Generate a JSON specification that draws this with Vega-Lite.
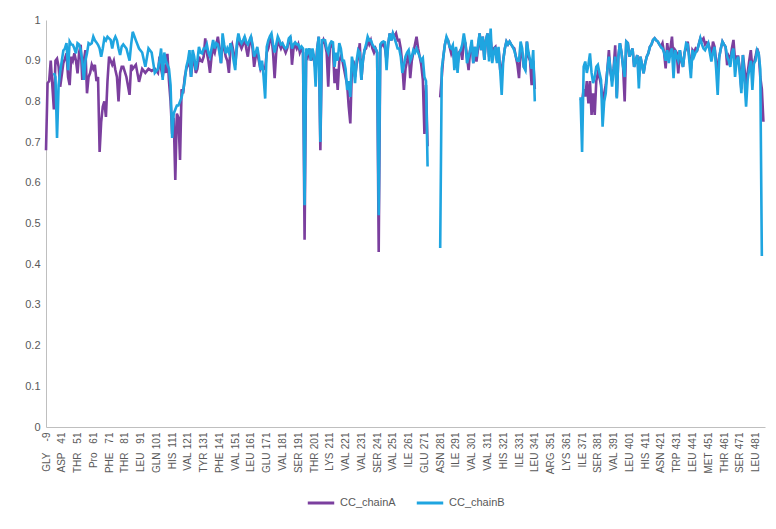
{
  "$schema": "https://vega.github.io/schema/vega-lite/v6.json",
  "autosize": {"type": "none"},
  "padding": {"left": 46, "top": 20, "right": 11, "bottom": 102},
  "width": 719,
  "height": 407,
  "background": "white",
  "config": {
    "view": {"stroke": null},
    "font": "Liberation Sans",
    "legend": {"layout": {"bottom": {"anchor": "middle"}}}
  },
  "data": {"values": [
    {"i":0,"CC_chainA":0.68,"CC_chainB":null},
    {"i":1,"CC_chainA":0.845,"CC_chainB":null},
    {"i":2,"CC_chainA":0.85,"CC_chainB":null},
    {"i":3,"CC_chainA":0.9,"CC_chainB":null},
    {"i":5,"CC_chainA":0.78,"CC_chainB":0.87},
    {"i":6,"CC_chainA":0.9,"CC_chainB":0.86},
    {"i":7,"CC_chainA":0.905,"CC_chainB":0.71},
    {"i":8,"CC_chainA":0.885,"CC_chainB":0.84},
    {"i":9,"CC_chainA":0.836,"CC_chainB":0.873},
    {"i":11,"CC_chainA":0.894,"CC_chainB":0.925},
    {"i":12,"CC_chainA":0.905,"CC_chainB":0.93},
    {"i":13,"CC_chainA":0.918,"CC_chainB":0.943},
    {"i":14,"CC_chainA":0.86,"CC_chainB":0.877},
    {"i":15,"CC_chainA":0.84,"CC_chainB":0.947},
    {"i":16,"CC_chainA":0.91,"CC_chainB":0.94},
    {"i":17,"CC_chainA":0.9,"CC_chainB":0.939},
    {"i":18,"CC_chainA":0.918,"CC_chainB":0.93},
    {"i":19,"CC_chainA":0.9,"CC_chainB":0.918},
    {"i":20,"CC_chainA":0.869,"CC_chainB":0.943},
    {"i":21,"CC_chainA":0.92,"CC_chainB":0.94},
    {"i":22,"CC_chainA":0.939,"CC_chainB":0.926},
    {"i":23,"CC_chainA":0.853,"CC_chainB":0.9},
    {"i":24,"CC_chainA":0.9,"CC_chainB":0.853},
    {"i":25,"CC_chainA":0.926,"CC_chainB":0.9},
    {"i":26,"CC_chainA":0.82,"CC_chainB":0.918},
    {"i":27,"CC_chainA":0.86,"CC_chainB":0.943},
    {"i":28,"CC_chainA":0.87,"CC_chainB":0.94},
    {"i":29,"CC_chainA":0.89,"CC_chainB":0.943},
    {"i":30,"CC_chainA":0.88,"CC_chainB":0.959},
    {"i":31,"CC_chainA":0.89,"CC_chainB":0.95},
    {"i":32,"CC_chainA":0.85,"CC_chainB":0.945},
    {"i":33,"CC_chainA":0.86,"CC_chainB":0.939},
    {"i":34,"CC_chainA":0.676,"CC_chainB":0.93},
    {"i":35,"CC_chainA":0.75,"CC_chainB":0.91},
    {"i":36,"CC_chainA":0.787,"CC_chainB":0.93},
    {"i":37,"CC_chainA":0.8,"CC_chainB":0.955},
    {"i":38,"CC_chainA":0.762,"CC_chainB":0.95},
    {"i":39,"CC_chainA":0.85,"CC_chainB":0.959},
    {"i":40,"CC_chainA":0.91,"CC_chainB":0.955},
    {"i":41,"CC_chainA":0.9,"CC_chainB":0.951},
    {"i":42,"CC_chainA":0.89,"CC_chainB":0.93},
    {"i":43,"CC_chainA":0.9,"CC_chainB":0.95},
    {"i":44,"CC_chainA":0.877,"CC_chainB":0.959},
    {"i":45,"CC_chainA":0.86,"CC_chainB":0.95},
    {"i":46,"CC_chainA":0.8,"CC_chainB":0.93},
    {"i":47,"CC_chainA":0.87,"CC_chainB":0.914},
    {"i":48,"CC_chainA":0.885,"CC_chainB":0.935},
    {"i":49,"CC_chainA":0.885,"CC_chainB":0.94},
    {"i":51,"CC_chainA":0.86,"CC_chainB":0.93},
    {"i":53,"CC_chainA":0.816,"CC_chainB":0.9},
    {"i":54,"CC_chainA":0.89,"CC_chainB":0.94},
    {"i":55,"CC_chainA":0.88,"CC_chainB":0.971},
    {"i":57,"CC_chainA":0.89,"CC_chainB":0.95},
    {"i":59,"CC_chainA":0.848,"CC_chainB":0.93},
    {"i":61,"CC_chainA":0.88,"CC_chainB":0.92},
    {"i":63,"CC_chainA":0.87,"CC_chainB":0.885},
    {"i":65,"CC_chainA":0.88,"CC_chainB":0.93},
    {"i":67,"CC_chainA":0.875,"CC_chainB":0.92},
    {"i":69,"CC_chainA":0.88,"CC_chainB":0.87},
    {"i":71,"CC_chainA":0.87,"CC_chainB":0.88},
    {"i":72,"CC_chainA":0.91,"CC_chainB":0.9},
    {"i":73,"CC_chainA":0.88,"CC_chainB":0.93},
    {"i":74,"CC_chainA":0.86,"CC_chainB":0.853},
    {"i":75,"CC_chainA":0.89,"CC_chainB":0.92},
    {"i":76,"CC_chainA":0.87,"CC_chainB":0.9},
    {"i":77,"CC_chainA":0.917,"CC_chainB":0.89},
    {"i":78,"CC_chainA":0.85,"CC_chainB":0.88},
    {"i":79,"CC_chainA":0.8,"CC_chainB":0.84},
    {"i":80,"CC_chainA":0.72,"CC_chainB":0.71},
    {"i":81,"CC_chainA":0.76,"CC_chainB":0.77},
    {"i":82,"CC_chainA":0.607,"CC_chainB":0.78},
    {"i":83,"CC_chainA":0.77,"CC_chainB":0.79},
    {"i":84,"CC_chainA":0.76,"CC_chainB":0.79},
    {"i":85,"CC_chainA":0.656,"CC_chainB":0.8},
    {"i":86,"CC_chainA":0.83,"CC_chainB":0.81},
    {"i":87,"CC_chainA":0.82,"CC_chainB":0.828},
    {"i":88,"CC_chainA":0.86,"CC_chainB":0.85},
    {"i":89,"CC_chainA":0.88,"CC_chainB":0.885},
    {"i":90,"CC_chainA":0.89,"CC_chainB":0.9},
    {"i":91,"CC_chainA":0.9,"CC_chainB":0.926},
    {"i":92,"CC_chainA":0.86,"CC_chainB":0.86},
    {"i":93,"CC_chainA":0.9,"CC_chainB":0.926},
    {"i":94,"CC_chainA":0.9,"CC_chainB":0.91},
    {"i":95,"CC_chainA":0.87,"CC_chainB":0.877},
    {"i":96,"CC_chainA":0.88,"CC_chainB":0.9},
    {"i":97,"CC_chainA":0.91,"CC_chainB":0.934},
    {"i":98,"CC_chainA":0.9,"CC_chainB":0.92},
    {"i":99,"CC_chainA":0.898,"CC_chainB":0.918},
    {"i":100,"CC_chainA":0.91,"CC_chainB":0.93},
    {"i":101,"CC_chainA":0.955,"CC_chainB":0.93},
    {"i":102,"CC_chainA":0.92,"CC_chainB":0.94},
    {"i":103,"CC_chainA":0.9,"CC_chainB":0.92},
    {"i":104,"CC_chainA":0.87,"CC_chainB":0.91},
    {"i":105,"CC_chainA":0.91,"CC_chainB":0.93},
    {"i":106,"CC_chainA":0.93,"CC_chainB":0.951},
    {"i":107,"CC_chainA":0.92,"CC_chainB":0.93},
    {"i":108,"CC_chainA":0.94,"CC_chainB":0.943},
    {"i":109,"CC_chainA":0.959,"CC_chainB":0.94},
    {"i":110,"CC_chainA":0.93,"CC_chainB":0.92},
    {"i":111,"CC_chainA":0.894,"CC_chainB":0.894},
    {"i":112,"CC_chainA":0.95,"CC_chainB":0.967},
    {"i":113,"CC_chainA":0.93,"CC_chainB":0.94},
    {"i":114,"CC_chainA":0.91,"CC_chainB":0.918},
    {"i":115,"CC_chainA":0.9,"CC_chainB":0.93},
    {"i":116,"CC_chainA":0.87,"CC_chainB":0.92},
    {"i":117,"CC_chainA":0.93,"CC_chainB":0.943},
    {"i":118,"CC_chainA":0.94,"CC_chainB":0.93},
    {"i":119,"CC_chainA":0.92,"CC_chainB":0.9},
    {"i":120,"CC_chainA":0.89,"CC_chainB":0.877},
    {"i":121,"CC_chainA":0.93,"CC_chainB":0.94},
    {"i":122,"CC_chainA":0.96,"CC_chainB":0.967},
    {"i":123,"CC_chainA":0.94,"CC_chainB":0.95},
    {"i":124,"CC_chainA":0.93,"CC_chainB":0.943},
    {"i":125,"CC_chainA":0.94,"CC_chainB":0.95},
    {"i":126,"CC_chainA":0.959,"CC_chainB":0.959},
    {"i":127,"CC_chainA":0.93,"CC_chainB":0.945},
    {"i":128,"CC_chainA":0.91,"CC_chainB":0.94},
    {"i":129,"CC_chainA":0.94,"CC_chainB":0.95},
    {"i":130,"CC_chainA":0.959,"CC_chainB":0.959},
    {"i":131,"CC_chainA":0.93,"CC_chainB":0.94},
    {"i":132,"CC_chainA":0.885,"CC_chainB":0.91},
    {"i":133,"CC_chainA":0.91,"CC_chainB":0.92},
    {"i":134,"CC_chainA":0.92,"CC_chainB":0.934},
    {"i":135,"CC_chainA":0.9,"CC_chainB":0.91},
    {"i":136,"CC_chainA":0.88,"CC_chainB":0.877},
    {"i":137,"CC_chainA":0.89,"CC_chainB":0.9},
    {"i":138,"CC_chainA":0.88,"CC_chainB":0.86},
    {"i":139,"CC_chainA":0.88,"CC_chainB":0.807},
    {"i":140,"CC_chainA":0.92,"CC_chainB":0.934},
    {"i":141,"CC_chainA":0.93,"CC_chainB":0.95},
    {"i":142,"CC_chainA":0.95,"CC_chainB":0.96},
    {"i":143,"CC_chainA":0.96,"CC_chainB":0.967},
    {"i":144,"CC_chainA":0.92,"CC_chainB":0.94},
    {"i":145,"CC_chainA":0.857,"CC_chainB":0.92},
    {"i":146,"CC_chainA":0.92,"CC_chainB":0.94},
    {"i":147,"CC_chainA":0.95,"CC_chainB":0.959},
    {"i":148,"CC_chainA":0.94,"CC_chainB":0.95},
    {"i":149,"CC_chainA":0.93,"CC_chainB":0.94},
    {"i":150,"CC_chainA":0.94,"CC_chainB":0.943},
    {"i":151,"CC_chainA":0.93,"CC_chainB":0.935},
    {"i":152,"CC_chainA":0.92,"CC_chainB":0.93},
    {"i":153,"CC_chainA":0.93,"CC_chainB":0.934},
    {"i":154,"CC_chainA":0.95,"CC_chainB":0.955},
    {"i":155,"CC_chainA":0.959,"CC_chainB":0.959},
    {"i":156,"CC_chainA":0.89,"CC_chainB":0.93},
    {"i":157,"CC_chainA":0.93,"CC_chainB":0.94},
    {"i":158,"CC_chainA":0.94,"CC_chainB":0.945},
    {"i":159,"CC_chainA":0.93,"CC_chainB":0.94},
    {"i":160,"CC_chainA":0.94,"CC_chainB":0.94},
    {"i":161,"CC_chainA":0.92,"CC_chainB":0.93},
    {"i":162,"CC_chainA":0.93,"CC_chainB":0.935},
    {"i":163,"CC_chainA":0.92,"CC_chainB":0.93},
    {"i":164,"CC_chainA":0.46,"CC_chainB":0.545},
    {"i":165,"CC_chainA":0.92,"CC_chainB":0.93},
    {"i":166,"CC_chainA":0.91,"CC_chainB":0.92},
    {"i":167,"CC_chainA":0.93,"CC_chainB":0.93},
    {"i":168,"CC_chainA":0.9,"CC_chainB":0.9},
    {"i":169,"CC_chainA":0.92,"CC_chainB":0.93},
    {"i":170,"CC_chainA":0.9,"CC_chainB":0.91},
    {"i":171,"CC_chainA":0.88,"CC_chainB":0.836},
    {"i":172,"CC_chainA":0.93,"CC_chainB":0.93},
    {"i":173,"CC_chainA":0.959,"CC_chainB":0.959},
    {"i":174,"CC_chainA":0.68,"CC_chainB":0.7},
    {"i":175,"CC_chainA":0.94,"CC_chainB":0.95},
    {"i":176,"CC_chainA":0.951,"CC_chainB":0.951},
    {"i":177,"CC_chainA":0.94,"CC_chainB":0.95},
    {"i":178,"CC_chainA":0.92,"CC_chainB":0.93},
    {"i":179,"CC_chainA":0.836,"CC_chainB":0.92},
    {"i":180,"CC_chainA":0.93,"CC_chainB":0.94},
    {"i":181,"CC_chainA":0.947,"CC_chainB":0.947},
    {"i":182,"CC_chainA":0.93,"CC_chainB":0.945},
    {"i":183,"CC_chainA":0.845,"CC_chainB":0.885},
    {"i":184,"CC_chainA":0.88,"CC_chainB":0.92},
    {"i":185,"CC_chainA":0.828,"CC_chainB":0.9},
    {"i":186,"CC_chainA":0.9,"CC_chainB":0.943},
    {"i":187,"CC_chainA":0.91,"CC_chainB":0.93},
    {"i":188,"CC_chainA":0.9,"CC_chainB":0.9},
    {"i":189,"CC_chainA":0.88,"CC_chainB":0.9},
    {"i":190,"CC_chainA":0.86,"CC_chainB":0.88},
    {"i":191,"CC_chainA":0.84,"CC_chainB":0.828},
    {"i":192,"CC_chainA":0.787,"CC_chainB":0.85},
    {"i":193,"CC_chainA":0.746,"CC_chainB":0.811},
    {"i":194,"CC_chainA":0.88,"CC_chainB":0.91},
    {"i":195,"CC_chainA":0.9,"CC_chainB":0.89},
    {"i":196,"CC_chainA":0.86,"CC_chainB":0.845},
    {"i":197,"CC_chainA":0.89,"CC_chainB":0.9},
    {"i":198,"CC_chainA":0.91,"CC_chainB":0.926},
    {"i":199,"CC_chainA":0.943,"CC_chainB":0.92},
    {"i":200,"CC_chainA":0.853,"CC_chainB":0.853},
    {"i":201,"CC_chainA":0.9,"CC_chainB":0.9},
    {"i":202,"CC_chainA":0.926,"CC_chainB":0.926},
    {"i":203,"CC_chainA":0.93,"CC_chainB":0.94},
    {"i":204,"CC_chainA":0.95,"CC_chainB":0.959},
    {"i":205,"CC_chainA":0.94,"CC_chainB":0.95},
    {"i":206,"CC_chainA":0.95,"CC_chainB":0.951},
    {"i":207,"CC_chainA":0.93,"CC_chainB":0.94},
    {"i":208,"CC_chainA":0.92,"CC_chainB":0.934},
    {"i":209,"CC_chainA":0.93,"CC_chainB":0.93},
    {"i":210,"CC_chainA":0.92,"CC_chainB":0.92},
    {"i":211,"CC_chainA":0.43,"CC_chainB":0.52},
    {"i":212,"CC_chainA":0.93,"CC_chainB":0.94},
    {"i":213,"CC_chainA":0.94,"CC_chainB":0.945},
    {"i":214,"CC_chainA":0.94,"CC_chainB":0.947},
    {"i":215,"CC_chainA":0.93,"CC_chainB":0.945},
    {"i":216,"CC_chainA":0.9,"CC_chainB":0.877},
    {"i":217,"CC_chainA":0.94,"CC_chainB":0.94},
    {"i":218,"CC_chainA":0.967,"CC_chainB":0.967},
    {"i":219,"CC_chainA":0.95,"CC_chainB":0.95},
    {"i":220,"CC_chainA":0.967,"CC_chainB":0.967},
    {"i":221,"CC_chainA":0.96,"CC_chainB":0.955},
    {"i":222,"CC_chainA":0.967,"CC_chainB":0.943},
    {"i":223,"CC_chainA":0.95,"CC_chainB":0.93},
    {"i":224,"CC_chainA":0.951,"CC_chainB":0.93},
    {"i":225,"CC_chainA":0.93,"CC_chainB":0.91},
    {"i":226,"CC_chainA":0.89,"CC_chainB":0.87},
    {"i":227,"CC_chainA":0.828,"CC_chainB":0.89},
    {"i":228,"CC_chainA":0.88,"CC_chainB":0.91},
    {"i":229,"CC_chainA":0.9,"CC_chainB":0.92},
    {"i":230,"CC_chainA":0.926,"CC_chainB":0.926},
    {"i":231,"CC_chainA":0.857,"CC_chainB":0.9},
    {"i":232,"CC_chainA":0.9,"CC_chainB":0.91},
    {"i":233,"CC_chainA":0.92,"CC_chainB":0.926},
    {"i":234,"CC_chainA":0.94,"CC_chainB":0.92},
    {"i":235,"CC_chainA":0.959,"CC_chainB":0.93},
    {"i":236,"CC_chainA":0.93,"CC_chainB":0.92},
    {"i":237,"CC_chainA":0.91,"CC_chainB":0.91},
    {"i":238,"CC_chainA":0.89,"CC_chainB":0.9},
    {"i":239,"CC_chainA":0.853,"CC_chainB":0.906},
    {"i":240,"CC_chainA":0.72,"CC_chainB":0.86},
    {"i":241,"CC_chainA":0.84,"CC_chainB":0.85},
    {"i":242,"CC_chainA":0.69,"CC_chainB":0.64},
    {"i":245,"CC_chainA":null,"CC_chainB":null},
    {"i":250,"CC_chainA":0.81,"CC_chainB":0.44},
    {"i":251,"CC_chainA":0.86,"CC_chainB":0.88},
    {"i":252,"CC_chainA":0.91,"CC_chainB":0.91},
    {"i":253,"CC_chainA":0.94,"CC_chainB":0.94},
    {"i":254,"CC_chainA":0.955,"CC_chainB":0.959},
    {"i":255,"CC_chainA":0.95,"CC_chainB":0.95},
    {"i":256,"CC_chainA":0.934,"CC_chainB":0.934},
    {"i":257,"CC_chainA":0.918,"CC_chainB":0.93},
    {"i":258,"CC_chainA":0.93,"CC_chainB":0.938},
    {"i":259,"CC_chainA":0.9,"CC_chainB":0.877},
    {"i":260,"CC_chainA":0.93,"CC_chainB":0.934},
    {"i":261,"CC_chainA":0.89,"CC_chainB":0.87},
    {"i":262,"CC_chainA":0.92,"CC_chainB":0.92},
    {"i":263,"CC_chainA":0.926,"CC_chainB":0.926},
    {"i":264,"CC_chainA":0.902,"CC_chainB":0.94},
    {"i":265,"CC_chainA":0.95,"CC_chainB":0.967},
    {"i":266,"CC_chainA":0.943,"CC_chainB":0.943},
    {"i":267,"CC_chainA":0.91,"CC_chainB":0.894},
    {"i":268,"CC_chainA":0.877,"CC_chainB":0.91},
    {"i":269,"CC_chainA":0.926,"CC_chainB":0.926},
    {"i":270,"CC_chainA":0.94,"CC_chainB":0.951},
    {"i":271,"CC_chainA":0.894,"CC_chainB":0.894},
    {"i":272,"CC_chainA":0.934,"CC_chainB":0.934},
    {"i":273,"CC_chainA":0.898,"CC_chainB":0.91},
    {"i":274,"CC_chainA":0.93,"CC_chainB":0.94},
    {"i":275,"CC_chainA":0.967,"CC_chainB":0.967},
    {"i":276,"CC_chainA":0.926,"CC_chainB":0.926},
    {"i":277,"CC_chainA":0.959,"CC_chainB":0.959},
    {"i":278,"CC_chainA":0.902,"CC_chainB":0.902},
    {"i":279,"CC_chainA":0.95,"CC_chainB":0.95},
    {"i":280,"CC_chainA":0.967,"CC_chainB":0.967},
    {"i":281,"CC_chainA":0.91,"CC_chainB":0.898},
    {"i":282,"CC_chainA":0.95,"CC_chainB":0.979},
    {"i":283,"CC_chainA":0.92,"CC_chainB":0.894},
    {"i":284,"CC_chainA":0.93,"CC_chainB":0.92},
    {"i":285,"CC_chainA":0.934,"CC_chainB":0.934},
    {"i":286,"CC_chainA":0.9,"CC_chainB":0.894},
    {"i":287,"CC_chainA":0.93,"CC_chainB":0.934},
    {"i":288,"CC_chainA":0.88,"CC_chainB":0.88},
    {"i":289,"CC_chainA":0.88,"CC_chainB":0.816},
    {"i":290,"CC_chainA":0.902,"CC_chainB":0.902},
    {"i":291,"CC_chainA":0.93,"CC_chainB":0.93},
    {"i":292,"CC_chainA":0.947,"CC_chainB":0.947},
    {"i":293,"CC_chainA":0.94,"CC_chainB":0.94},
    {"i":294,"CC_chainA":0.947,"CC_chainB":0.947},
    {"i":295,"CC_chainA":0.94,"CC_chainB":0.94},
    {"i":296,"CC_chainA":0.934,"CC_chainB":0.934},
    {"i":297,"CC_chainA":0.93,"CC_chainB":0.925},
    {"i":298,"CC_chainA":0.91,"CC_chainB":0.91},
    {"i":299,"CC_chainA":0.89,"CC_chainB":0.9},
    {"i":300,"CC_chainA":0.857,"CC_chainB":0.9},
    {"i":301,"CC_chainA":0.93,"CC_chainB":0.947},
    {"i":302,"CC_chainA":0.92,"CC_chainB":0.93},
    {"i":303,"CC_chainA":0.885,"CC_chainB":0.885},
    {"i":304,"CC_chainA":0.88,"CC_chainB":0.877},
    {"i":305,"CC_chainA":0.947,"CC_chainB":0.947},
    {"i":306,"CC_chainA":0.91,"CC_chainB":0.92},
    {"i":307,"CC_chainA":0.9,"CC_chainB":0.902},
    {"i":308,"CC_chainA":0.84,"CC_chainB":0.88},
    {"i":309,"CC_chainA":0.9,"CC_chainB":0.926},
    {"i":310,"CC_chainA":0.83,"CC_chainB":0.8},
    {"i":325,"CC_chainA":null,"CC_chainB":null},
    {"i":339,"CC_chainA":0.807,"CC_chainB":0.81},
    {"i":340,"CC_chainA":0.8,"CC_chainB":0.676},
    {"i":341,"CC_chainA":0.83,"CC_chainB":0.885},
    {"i":342,"CC_chainA":0.812,"CC_chainB":0.898},
    {"i":343,"CC_chainA":0.85,"CC_chainB":0.87},
    {"i":344,"CC_chainA":0.795,"CC_chainB":0.89},
    {"i":345,"CC_chainA":0.85,"CC_chainB":0.918},
    {"i":346,"CC_chainA":0.767,"CC_chainB":0.87},
    {"i":347,"CC_chainA":0.82,"CC_chainB":0.845},
    {"i":348,"CC_chainA":0.767,"CC_chainB":0.86},
    {"i":349,"CC_chainA":0.85,"CC_chainB":0.885},
    {"i":350,"CC_chainA":0.87,"CC_chainB":0.89},
    {"i":351,"CC_chainA":0.86,"CC_chainB":0.87},
    {"i":352,"CC_chainA":0.84,"CC_chainB":0.853},
    {"i":353,"CC_chainA":0.8,"CC_chainB":0.738},
    {"i":354,"CC_chainA":0.82,"CC_chainB":0.8},
    {"i":355,"CC_chainA":0.84,"CC_chainB":0.82},
    {"i":356,"CC_chainA":0.877,"CC_chainB":0.877},
    {"i":357,"CC_chainA":0.926,"CC_chainB":0.91},
    {"i":358,"CC_chainA":0.87,"CC_chainB":0.88},
    {"i":359,"CC_chainA":0.85,"CC_chainB":0.836},
    {"i":360,"CC_chainA":0.881,"CC_chainB":0.88},
    {"i":361,"CC_chainA":0.938,"CC_chainB":0.91},
    {"i":362,"CC_chainA":0.81,"CC_chainB":0.807},
    {"i":363,"CC_chainA":0.91,"CC_chainB":0.91},
    {"i":364,"CC_chainA":0.943,"CC_chainB":0.943},
    {"i":365,"CC_chainA":0.92,"CC_chainB":0.92},
    {"i":366,"CC_chainA":0.885,"CC_chainB":0.885},
    {"i":367,"CC_chainA":0.8,"CC_chainB":0.86},
    {"i":368,"CC_chainA":0.947,"CC_chainB":0.947},
    {"i":369,"CC_chainA":0.943,"CC_chainB":0.943},
    {"i":370,"CC_chainA":0.91,"CC_chainB":0.91},
    {"i":371,"CC_chainA":0.92,"CC_chainB":0.92},
    {"i":372,"CC_chainA":0.93,"CC_chainB":0.93},
    {"i":373,"CC_chainA":0.885,"CC_chainB":0.885},
    {"i":374,"CC_chainA":0.9,"CC_chainB":0.9},
    {"i":375,"CC_chainA":0.914,"CC_chainB":0.914},
    {"i":376,"CC_chainA":0.86,"CC_chainB":0.832},
    {"i":377,"CC_chainA":0.91,"CC_chainB":0.91},
    {"i":378,"CC_chainA":0.89,"CC_chainB":0.89},
    {"i":379,"CC_chainA":0.869,"CC_chainB":0.869},
    {"i":380,"CC_chainA":0.894,"CC_chainB":0.894},
    {"i":381,"CC_chainA":0.91,"CC_chainB":0.91},
    {"i":382,"CC_chainA":0.918,"CC_chainB":0.918},
    {"i":383,"CC_chainA":0.934,"CC_chainB":0.934},
    {"i":384,"CC_chainA":0.94,"CC_chainB":0.94},
    {"i":385,"CC_chainA":0.951,"CC_chainB":0.951},
    {"i":386,"CC_chainA":0.955,"CC_chainB":0.955},
    {"i":387,"CC_chainA":0.95,"CC_chainB":0.95},
    {"i":388,"CC_chainA":0.947,"CC_chainB":0.947},
    {"i":389,"CC_chainA":0.94,"CC_chainB":0.94},
    {"i":390,"CC_chainA":0.934,"CC_chainB":0.934},
    {"i":391,"CC_chainA":0.943,"CC_chainB":0.93},
    {"i":392,"CC_chainA":0.92,"CC_chainB":0.92},
    {"i":393,"CC_chainA":0.881,"CC_chainB":0.9},
    {"i":394,"CC_chainA":0.943,"CC_chainB":0.926},
    {"i":395,"CC_chainA":0.91,"CC_chainB":0.894},
    {"i":396,"CC_chainA":0.93,"CC_chainB":0.92},
    {"i":397,"CC_chainA":0.959,"CC_chainB":0.93},
    {"i":398,"CC_chainA":0.9,"CC_chainB":0.857},
    {"i":399,"CC_chainA":0.926,"CC_chainB":0.926},
    {"i":400,"CC_chainA":0.92,"CC_chainB":0.91},
    {"i":401,"CC_chainA":0.869,"CC_chainB":0.9},
    {"i":402,"CC_chainA":0.926,"CC_chainB":0.926},
    {"i":403,"CC_chainA":0.9,"CC_chainB":0.9},
    {"i":404,"CC_chainA":0.885,"CC_chainB":0.885},
    {"i":405,"CC_chainA":0.92,"CC_chainB":0.92},
    {"i":406,"CC_chainA":0.93,"CC_chainB":0.943},
    {"i":407,"CC_chainA":0.947,"CC_chainB":0.94},
    {"i":408,"CC_chainA":0.91,"CC_chainB":0.9},
    {"i":409,"CC_chainA":0.88,"CC_chainB":0.857},
    {"i":410,"CC_chainA":0.926,"CC_chainB":0.926},
    {"i":411,"CC_chainA":0.92,"CC_chainB":0.91},
    {"i":412,"CC_chainA":0.93,"CC_chainB":0.92},
    {"i":413,"CC_chainA":0.926,"CC_chainB":0.926},
    {"i":414,"CC_chainA":0.94,"CC_chainB":0.94},
    {"i":415,"CC_chainA":0.955,"CC_chainB":0.955},
    {"i":416,"CC_chainA":0.95,"CC_chainB":0.94},
    {"i":417,"CC_chainA":0.955,"CC_chainB":0.93},
    {"i":418,"CC_chainA":0.94,"CC_chainB":0.926},
    {"i":419,"CC_chainA":0.945,"CC_chainB":0.935},
    {"i":420,"CC_chainA":0.943,"CC_chainB":0.943},
    {"i":421,"CC_chainA":0.93,"CC_chainB":0.92},
    {"i":422,"CC_chainA":0.91,"CC_chainB":0.898},
    {"i":423,"CC_chainA":0.947,"CC_chainB":0.92},
    {"i":424,"CC_chainA":0.934,"CC_chainB":0.934},
    {"i":425,"CC_chainA":0.9,"CC_chainB":0.88},
    {"i":426,"CC_chainA":0.88,"CC_chainB":0.816},
    {"i":427,"CC_chainA":0.91,"CC_chainB":0.91},
    {"i":428,"CC_chainA":0.93,"CC_chainB":0.93},
    {"i":429,"CC_chainA":0.947,"CC_chainB":0.947},
    {"i":430,"CC_chainA":0.94,"CC_chainB":0.94},
    {"i":431,"CC_chainA":0.934,"CC_chainB":0.934},
    {"i":432,"CC_chainA":0.889,"CC_chainB":0.91},
    {"i":433,"CC_chainA":0.91,"CC_chainB":0.9},
    {"i":434,"CC_chainA":0.9,"CC_chainB":0.885},
    {"i":435,"CC_chainA":0.93,"CC_chainB":0.92},
    {"i":436,"CC_chainA":0.951,"CC_chainB":0.93},
    {"i":437,"CC_chainA":0.9,"CC_chainB":0.86},
    {"i":438,"CC_chainA":0.91,"CC_chainB":0.9},
    {"i":439,"CC_chainA":0.91,"CC_chainB":0.91},
    {"i":440,"CC_chainA":0.88,"CC_chainB":0.87},
    {"i":441,"CC_chainA":0.83,"CC_chainB":0.82},
    {"i":442,"CC_chainA":0.914,"CC_chainB":0.914},
    {"i":443,"CC_chainA":0.88,"CC_chainB":0.85},
    {"i":444,"CC_chainA":0.84,"CC_chainB":0.787},
    {"i":445,"CC_chainA":0.87,"CC_chainB":0.853},
    {"i":446,"CC_chainA":0.9,"CC_chainB":0.88},
    {"i":447,"CC_chainA":0.926,"CC_chainB":0.9},
    {"i":448,"CC_chainA":0.88,"CC_chainB":0.828},
    {"i":449,"CC_chainA":0.894,"CC_chainB":0.894},
    {"i":450,"CC_chainA":0.91,"CC_chainB":0.9},
    {"i":451,"CC_chainA":0.93,"CC_chainB":0.926},
    {"i":452,"CC_chainA":0.918,"CC_chainB":0.918},
    {"i":453,"CC_chainA":0.86,"CC_chainB":0.88},
    {"i":454,"CC_chainA":0.83,"CC_chainB":0.42},
    {"i":455,"CC_chainA":0.75,"CC_chainB":null}
  ]},
  "transform": [{"fold": ["CC_chainA", "CC_chainB"], "as": ["series", "value"]}],
  "layer": [
    {
      "mark": {"type": "line", "strokeWidth": 2.6, "invalid": "break-paths-show-domains"},
      "encoding": {
        "x": {
          "field": "i", "type": "quantitative",
          "scale": {"domain": [0, 456], "nice": false, "zero": false},
          "axis": {
            "orient": "bottom",
            "title": null,
            "values": [0,10,20,30,40,50,60,70,80,90,100,110,120,130,140,150,160,170,180,190,200,210,220,230,240,250,260,270,280,290,300,310,320,330,340,350,360,370,380,390,400,410,420,430,440,450],
            "labelExpr": "['-9','41','51','61','71','81','91','101','111','121','131','141','151','161','171','181','191','201','211','221','231','241','251','261','271','281','291','301','311','321','331','341','351','361','371','381','391','401','411','421','431','441','451','461','471','481'][round(datum.value/10)]",
            "labelAngle": -90,
            "labelAlign": "right",
            "labelBaseline": "middle",
            "labelPadding": 5,
            "labelFontSize": 10,
            "labelColor": "#595959",
            "labelOverlap": false,
            "labelBound": false,
            "labelFlush": false,
            "ticks": false,
            "grid": false,
            "domainColor": "#bfbfbf",
            "domainWidth": 1
          }
        },
        "y": {
          "field": "value", "type": "quantitative",
          "scale": {"domain": [0, 1], "nice": false},
          "axis": {
            "title": null,
            "values": [0,0.1,0.2,0.3,0.4,0.5,0.6,0.7,0.8,0.9,1],
            "format": "~g",
            "labelFontSize": 11,
            "labelColor": "#595959",
            "labelPadding": 6,
            "ticks": false,
            "grid": false,
            "domainColor": "#bfbfbf",
            "domainWidth": 1
          }
        },
        "color": {
          "field": "series", "type": "nominal",
          "scale": {"domain": ["CC_chainA", "CC_chainB"], "range": ["#7b3f9e", "#1fa5e0"]},
          "legend": {
            "title": null,
            "orient": "bottom",
            "direction": "horizontal",
            "symbolType": "stroke",
            "symbolStrokeWidth": 3,
            "symbolSize": 700,
            "labelFontSize": 11,
            "labelColor": "#595959",
            "columnPadding": 14,
            "offset": 14
          }
        }
      }
    },
    {
      "mark": {"type": "point", "opacity": 0},
      "encoding": {
        "x": {
          "field": "i", "type": "quantitative",
          "axis": {
            "orient": "bottom",
            "title": null,
            "values": [0,10,20,30,40,50,60,70,80,90,100,110,120,130,140,150,160,170,180,190,200,210,220,230,240,250,260,270,280,290,300,310,320,330,340,350,360,370,380,390,400,410,420,430,440,450],
            "labelExpr": "['GLY','ASP','THR','Pro','PHE','THR','LEU','GLN','HIS','VAL','TYR','PHE','VAL','LEU','GLU','VAL','SER','THR','LYS','VAL','VAL','SER','VAL','ILE','GLU','ASN','ILE','VAL','VAL','HIS','ILE','LEU','ARG','LYS','ILE','SER','VAL','LEU','HIS','ASN','TRP','LEU','MET','THR','SER','LEU'][round(datum.value/10)]",
            "labelAngle": -90,
            "labelAlign": "right",
            "labelBaseline": "middle",
            "labelPadding": 25,
            "labelFontSize": 10,
            "labelColor": "#595959",
            "labelOverlap": false,
            "labelBound": false,
            "labelFlush": false,
            "ticks": false,
            "grid": false,
            "domain": false
          }
        }
      }
    }
  ],
  "resolve": {"axis": {"x": "independent"}}
}
